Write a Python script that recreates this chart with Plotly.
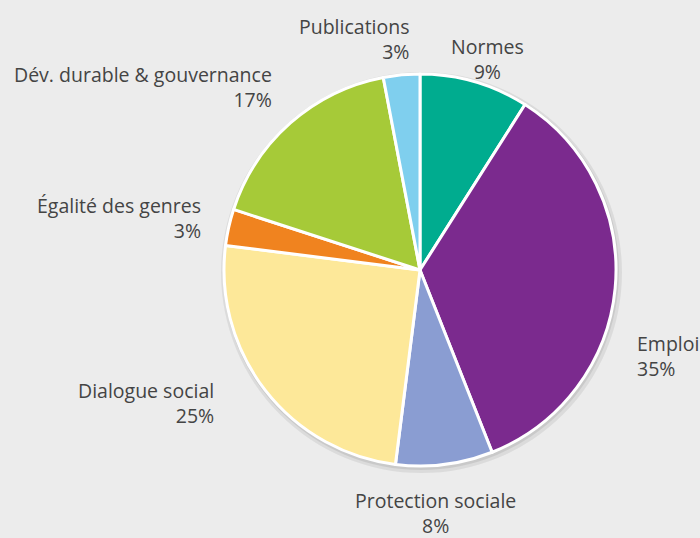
import plotly.graph_objects as go

labels = ["Normes", "Emploi", "Protection sociale", "Dialogue social",
          "Égalité des genres", "Dév. durable & gouvernance", "Publications"]
values = [9, 35, 8, 25, 3, 17, 3]
colors = ["#00AC8F", "#7B2A8E", "#8A9DD2", "#FDE899", "#F0831F", "#A6CA38", "#7FCFEE"]

# label placement (paper px: x, y from top, anchor)
label_pos = {
    "Normes": (487, 59, "center"),
    "Emploi": (635, 356, "left"),
    "Protection sociale": (435, 513, "center"),
    "Dialogue social": (216, 403, "right"),
    "Égalité des genres": (203, 218, "right"),
    "Dév. durable & gouvernance": (274, 87, "right"),
    "Publications": (412, 39, "right"),
}

W, H = 700, 538
cx, cy, r = 420, 270, 196

fig = go.Figure()
fig.add_trace(go.Pie(
    labels=labels, values=values, sort=False, direction="clockwise", rotation=0,
    marker=dict(colors=colors, line=dict(color="white", width=3)),
    textinfo="none", hoverinfo="label+percent", showlegend=False,
    domain=dict(x=[(cx - r) / W, (cx + r) / W], y=[(H - cy - r) / H, (H - cy + r) / H]),
))

total = sum(values)
anns = []
for lab, v in zip(labels, values):
    x, y, a = label_pos[lab]
    anns.append(dict(
        x=x / W, y=1 - y / H, xref="paper", yref="paper",
        text=f"{lab}<br>{round(100 * v / total)}%",
        showarrow=False, align=a, xanchor=a, yanchor="middle",
        font=dict(family="Open Sans", size=19.5, color="#444444"),
    ))

shapes = [
    dict(type="circle", xref="paper", yref="paper", layer="below",
         x0=(cx - r - 3) / W, x1=(cx + r + 6) / W,
         y0=(H - cy - r - 7) / H, y1=(H - cy + r + 2) / H,
         fillcolor="rgba(0,0,0,0.07)", line=dict(width=0)),
    dict(type="circle", xref="paper", yref="paper", layer="below",
         x0=(cx - r - 1) / W, x1=(cx + r + 3) / W,
         y0=(H - cy - r - 4) / H, y1=(H - cy + r + 1) / H,
         fillcolor="rgba(0,0,0,0.08)", line=dict(width=0)),
]

fig.update_layout(
    width=W, height=H, margin=dict(l=0, r=0, t=0, b=0),
    paper_bgcolor="#ECECEC", plot_bgcolor="#ECECEC",
    annotations=anns, shapes=shapes,
)
fig.write_html("out.html")
